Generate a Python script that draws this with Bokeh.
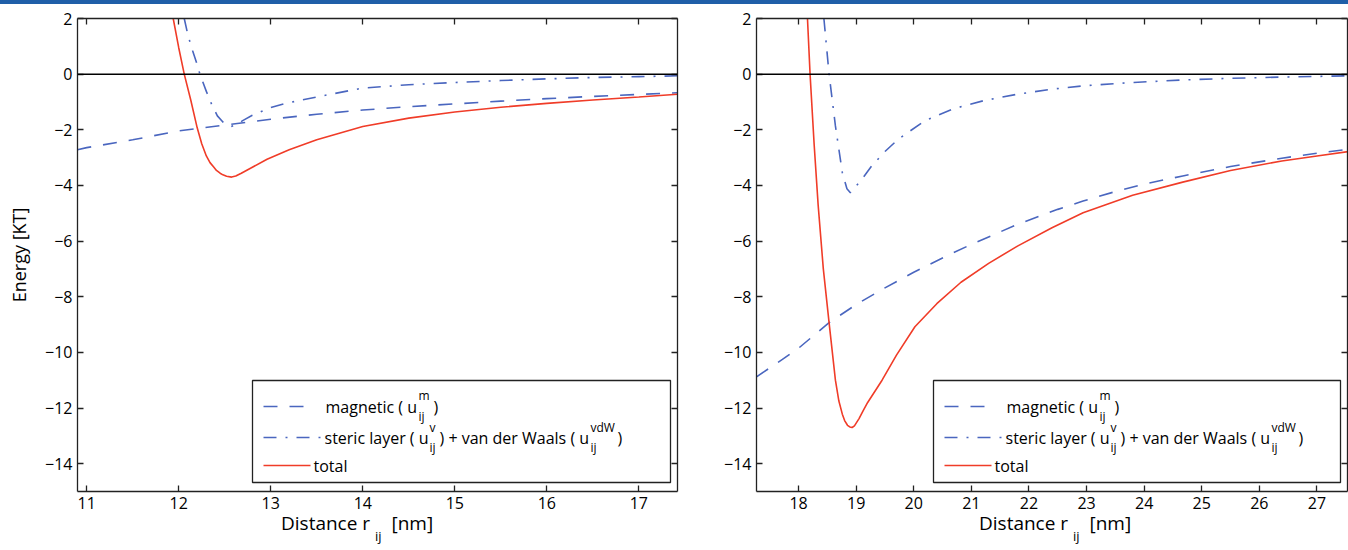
from bokeh.plotting import figure
from bokeh.models import Range1d, LinearAxis, FixedTicker, Span, Div
from bokeh.layouts import row, column
from bokeh.embed import file_html
from bokeh.resources import INLINE
from bokeh.core.properties import value

# ---------------- data ----------------
left_mag_r = [10.90, 11.0, 11.5, 12.0, 12.5, 13.0, 13.5, 14.0, 14.5, 15.0, 15.5, 16.0, 16.5, 17.0, 17.42]
left_mag_u = [-2.72, -2.64, -2.36, -2.04, -1.83, -1.62, -1.44, -1.29, -1.17, -1.07, -0.97, -0.88, -0.80, -0.73, -0.67]

left_ster_r = [12.06, 12.10, 12.15, 12.20, 12.23, 12.30, 12.36, 12.42, 12.48, 12.53, 12.57, 12.62, 12.70,
               12.80, 13.00, 13.15, 13.50, 14.00, 14.50, 15.00, 15.50, 16.00, 16.50, 17.00, 17.42]
left_ster_u = [2.00, 1.40, 0.85, 0.35, 0.00, -0.62, -1.10, -1.50, -1.72, -1.84, -1.88, -1.82, -1.66,
               -1.48, -1.20, -1.06, -0.82, -0.50, -0.38, -0.30, -0.23, -0.17, -0.12, -0.09, -0.06]

left_tot_r = [11.94, 12.00, 12.06, 12.13, 12.20, 12.25, 12.30, 12.34, 12.38, 12.41, 12.45, 12.48, 12.52,
              12.575, 12.62, 12.68, 12.78, 12.96, 13.20, 13.50, 14.00, 14.50, 15.00, 15.50, 16.00, 16.50,
              17.00, 17.42]
left_tot_u = [2.00, 0.95, 0.00, -0.92, -1.92, -2.50, -2.94, -3.18, -3.34, -3.46, -3.56, -3.62, -3.67,
              -3.70, -3.66, -3.56, -3.38, -3.06, -2.72, -2.36, -1.88, -1.58, -1.36, -1.19, -1.05, -0.93,
              -0.82, -0.72]

right_mag_r = [17.27, 17.72, 18.0, 18.53, 19.0, 19.5, 20.0, 20.65, 21.0, 21.8, 22.5, 22.94, 23.5, 24.0,
               24.67, 25.5, 26.39, 27.0, 27.55]
right_mag_u = [-10.88, -10.25, -9.85, -8.93, -8.28, -7.68, -7.12, -6.45, -6.12, -5.40, -4.86, -4.56, -4.22,
               -3.95, -3.66, -3.32, -3.02, -2.84, -2.70]

right_ster_r = [18.44, 18.53, 18.64, 18.76, 18.84, 18.90, 18.96, 19.10, 19.27, 19.50, 19.73, 20.19, 20.68,
                21.20, 21.80, 22.40, 22.94, 23.80, 24.67, 25.50, 26.50, 27.55]
right_ster_u = [2.00, 0.00, -1.86, -3.54, -4.12, -4.26, -4.12, -3.78, -3.30, -2.78, -2.34, -1.68, -1.25,
                -0.96, -0.72, -0.54, -0.42, -0.30, -0.21, -0.15, -0.10, -0.06]

right_tot_r = [18.155, 18.20, 18.27, 18.34, 18.43, 18.53, 18.64, 18.70, 18.76, 18.80, 18.85, 18.89, 18.93,
               18.97, 19.05, 19.12, 19.20, 19.45, 19.70, 20.02, 20.40, 20.82, 21.30, 21.80, 22.40, 22.94,
               23.80, 24.67, 25.50, 26.39, 27.00, 27.55]
right_tot_u = [2.00, 0.00, -2.50, -4.70, -7.00, -8.93, -11.00, -11.75, -12.22, -12.45, -12.62, -12.68, -12.70,
               -12.64, -12.38, -12.10, -11.80, -11.00, -10.10, -9.08, -8.25, -7.48, -6.80, -6.18, -5.52, -4.98,
               -4.35, -3.88, -3.46, -3.12, -2.94, -2.78]

left_xticks = [11, 12, 13, 14, 15, 16, 17]
right_xticks = [18, 19, 20, 21, 22, 23, 24, 25, 26, 27]
yticks = [-14, -12, -10, -8, -6, -4, -2, 0, 2]

y_label = "Energy [KT]"
x_label = ["Distance r", "ij", "[nm]"]
legend_mag = ["magnetic ( u", "m", "ij", ")"]
legend_ster = ["steric layer ( u", "v", "ij", ") + van der Waals ( u", "vdW", "ij", ")"]
legend_tot = "total"

# ---------------- style ----------------
FONT = "Open Sans"
BLUE = "#4a66bf"
RED = "#f03c28"
INK = "#000000"
DASH = "14 12"
DASHDOT = "13 9 2 9"
Y0, Y1 = -15, 2
BAR_H = 4
FRAME_TOP = 18          # page y of the frame top
FH = 473


def fmt(t):
    return ("\u2212" + str(abs(t))) if t < 0 else str(t)


def make_panel(xr, xticks, fw, bl, br, mag, ster, tot, box_l, box_r, with_ylabel):
    p = figure(frame_width=fw, frame_height=FH, min_border_left=bl, min_border_right=br,
               min_border_top=FRAME_TOP - BAR_H, min_border_bottom=24,
               x_range=Range1d(*xr), y_range=Range1d(Y0, Y1),
               x_axis_location=None, y_axis_location=None,
               toolbar_location=None, output_backend="svg",
               background_fill_color="white", border_fill_color="white")
    p.outline_line_color = None
    for g in p.grid:
        g.visible = False

    for loc in ["below", "left", "above", "right"]:
        ticks = xticks if loc in ("below", "above") else yticks
        ax = LinearAxis(ticker=FixedTicker(ticks=ticks))
        ax.major_tick_in = 6
        ax.major_tick_out = 0
        ax.minor_tick_line_color = None
        ax.axis_line_color = "#222222"
        ax.axis_line_width = 1.3
        ax.major_tick_line_color = "#222222"
        ax.major_tick_line_width = 1.3
        if loc in ("above", "right"):
            ax.major_label_overrides = {t: "" for t in ticks}
            ax.major_label_text_font_size = "0px"
            ax.major_label_standoff = 0
        else:
            ax.major_label_overrides = {t: fmt(t) for t in ticks}
            ax.major_label_text_font = FONT
            ax.major_label_text_font_size = "16px"
            ax.major_label_text_color = INK
            ax.major_label_standoff = 5
        if loc == "left" and with_ylabel:
            ax.axis_label = y_label
            ax.axis_label_text_font = FONT
            ax.axis_label_text_font_size = "18px"
            ax.axis_label_text_font_style = "normal"
            ax.axis_label_text_color = INK
            ax.axis_label_standoff = 11
        p.add_layout(ax, loc)

    p.add_layout(Span(location=0, dimension="width", line_color="black", line_width=1.5))

    p.line(mag[0], mag[1], line_color=BLUE, line_width=1.6, line_dash=DASH)
    p.line(ster[0], ster[1], line_color=BLUE, line_width=1.6, line_dash=DASHDOT)
    p.line(tot[0], tot[1], line_color=RED, line_width=1.6)

    # helpers: pixel offsets (from frame left, page y) -> data coordinates
    def fx(px):
        return xr[0] + px * (xr[1] - xr[0]) / fw

    def fy(page_y):
        return Y1 - (page_y - FRAME_TOP) * (Y1 - Y0) / FH

    # legend box
    p.quad(left=[fx(box_l)], right=[fx(box_r)], top=[fy(380)], bottom=[fy(482)],
           fill_color="white", line_color="#222222", line_width=1.3)
    r1, r2, r3 = 406, 437, 465
    p.line([fx(box_l + 11), fx(box_l + 56)], [fy(r1)] * 2, line_color=BLUE, line_width=1.6, line_dash=DASH)
    p.line([fx(box_l + 11), fx(box_l + 70)], [fy(r2)] * 2, line_color=BLUE, line_width=1.6, line_dash=DASHDOT)
    p.line([fx(box_l + 11), fx(box_l + 58)], [fy(r3)] * 2, line_color=RED, line_width=1.6)

    t1 = box_l + 73
    t2 = box_l + 72
    t3 = box_l + 61
    big_x = [fx(t1), fx(t1 + 108), fx(t2), fx(t2 + 115), fx(t2 + 293), fx(t3)]
    big_y = [fy(r1), fy(r1), fy(r2), fy(r2), fy(r2), fy(r3)]
    big_t = [legend_mag[0], legend_mag[3], legend_ster[0], legend_ster[3], legend_ster[6], legend_tot]
    p.text(x=big_x, y=big_y, text=big_t, text_font=value(FONT), text_font_size="16px",
           text_baseline="middle", text_align="left", text_color=INK)
    sm_x = [fx(t1 + 93), fx(t1 + 93), fx(t2 + 105), fx(t2 + 105), fx(t2 + 266), fx(t2 + 266)]
    sm_y = [fy(r1 - 11), fy(r1 + 10), fy(r2 - 10), fy(r2 + 10), fy(r2 - 10), fy(r2 + 10)]
    sm_t = [legend_mag[1], legend_mag[2], legend_ster[1], legend_ster[2], legend_ster[4], legend_ster[5]]
    p.text(x=sm_x, y=sm_y, text=sm_t, text_font=value(FONT), text_font_size="12px",
           text_baseline="middle", text_align="left", text_color=INK)
    return p


# left figure: 77 + 600 + 10 = 687 ; right figure: 69 + 591 + 1 = 661  -> 1348 total
p1 = make_panel((10.9, 17.42), left_xticks, 600, 77, 10,
                (left_mag_r, left_mag_u), (left_ster_r, left_ster_u), (left_tot_r, left_tot_u),
                175, 593, True)
p2 = make_panel((17.27, 27.53), right_xticks, 591, 69, 1,
                (right_mag_r, right_mag_u), (right_ster_r, right_ster_u), (right_tot_r, right_tot_u),
                177, 584, False)


def xlabel_div(width, pad_left):
    html = ('<div style="font-family:\'Open Sans\'; font-size:19px; line-height:16px; color:#000; '
            'white-space:nowrap; padding-left:%dpx;">%s&nbsp;<span style="font-size:13px; position:relative; '
            'top:11px;">%s</span>&nbsp;&nbsp;%s</div>' % (pad_left, x_label[0], x_label[1], x_label[2]))
    return Div(text=html, width=width, height=33, margin=0, styles={"overflow": "visible"})


d1 = xlabel_div(687, 281)
d2 = xlabel_div(661, 292)

bar = Div(text="", width=1348, height=BAR_H, margin=0, styles={"background-color": "#1f5fa8"})
layout = column(bar, row(p1, p2), row(d1, d2))

open("out.html", "w").write(file_html(layout, INLINE))
